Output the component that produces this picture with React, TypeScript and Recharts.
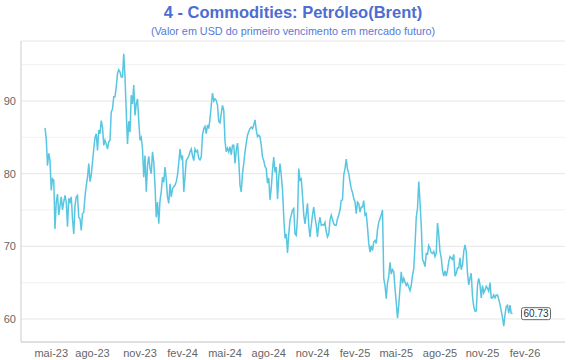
import { LineChart, Line, XAxis, YAxis, CartesianGrid, LabelList } from 'recharts';

// Brent, primeiro vencimento (USD)
const precos = [
  86.3, 84.8, 81.1, 82.8, 81.8, 77.7, 79.3, 79.1, 72.4, 76.1,
  77.2, 74.3, 75.6, 76.8, 75.0, 76.1, 77.0, 76.1, 72.7, 76.6,
  76.1, 76.8, 73.8, 71.7, 75.6, 76.8, 77.0, 74.0, 73.8, 72.2,
  74.5, 74.7, 76.8, 78.4, 79.5, 81.4, 78.9, 79.8, 81.6, 83.4,
  85.0, 85.5, 83.2, 86.0, 85.5, 87.3, 86.4, 83.9, 84.6, 84.1,
  83.4, 84.4, 84.6, 88.5, 88.9, 90.6, 90.6, 91.9, 93.8, 94.3,
  94.0, 93.3,
  93.3, 96.5, 93.3, 88.5, 84.1, 87.2, 85.7, 90.8, 89.6, 92.2,
  88.0, 89.6, 90.3, 87.3, 84.6, 85.0, 83.4, 79.5, 82.5, 77.5,
  81.1, 82.4, 80.7, 80.0, 83.0, 81.6, 78.4, 74.0, 76.1, 73.1,
  76.3, 77.5, 79.5, 78.8, 80.9, 79.3, 76.8, 75.9, 78.6, 76.8,
  77.9, 78.2, 78.4, 78.9, 79.8, 81.5, 83.4, 82.1, 82.5, 77.5,
  79.5, 81.8, 82.1, 82.4, 83.0, 83.4, 82.5, 81.8, 83.4, 83.0,
  83.2, 82.1, 81.9, 82.3, 85.3, 86.2, 86.5, 85.5, 86.7, 86.2,
  87.6, 89.4, 91.1, 90.0, 90.3, 90.1, 89.4, 87.2, 87.0, 88.3,
  89.4, 88.7, 84.5, 83.0, 83.5, 83.0, 83.7, 82.6, 83.9, 83.9,
  81.4, 83.2, 84.2, 81.9, 78.4, 77.5, 80.0, 81.4, 83.0, 84.2,
  85.3, 85.8, 86.2, 86.4, 86.2, 86.7, 87.4, 86.0, 85.1, 85.3,
  85.1, 83.9, 82.3, 81.8, 81.0, 80.7, 78.7, 79.4, 76.4, 78.0,
  80.5, 82.3,
  80.2, 80.9, 76.5, 79.5, 81.4, 79.8, 77.8, 74.0, 71.1, 71.7,
  69.1, 71.7, 73.6, 74.3, 75.0, 75.2, 71.7, 71.5, 74.0, 80.7,
  79.1, 79.3, 77.0, 74.3, 73.1, 74.5, 75.9, 72.9, 71.3, 72.9,
  74.3, 75.4, 74.0, 72.9, 71.3, 73.1, 74.0, 72.9, 73.0, 72.9,
  73.3, 72.0, 71.3, 71.7, 73.6, 74.3, 73.7, 73.1, 72.9, 72.9,
  73.8, 74.3, 75.0, 76.3, 76.4, 79.8, 80.7, 82.0, 80.6, 80.0,
  78.9, 77.9,
  77.4, 76.6, 76.1, 74.5, 76.1, 75.9, 74.7, 75.4, 75.4, 76.3,
  74.3, 74.5, 72.6, 70.4, 69.2, 70.1, 69.4, 70.6, 70.8, 70.4,
  72.3, 73.3, 73.8, 74.3, 75.0, 65.6, 64.6, 62.8, 65.0, 65.8,
  67.8, 66.2, 66.8, 66.5, 64.2, 62.3, 60.1, 61.9, 64.2, 66.5,
  64.9, 65.6, 65.1, 64.6, 64.9, 64.4, 63.9, 64.6, 66.0, 66.9,
  70.1, 74.0, 75.2, 78.9, 76.1, 72.9, 68.2, 67.8, 67.2, 69.0,
  68.9, 70.1, 69.7,
  69.1, 69.0, 69.3, 68.6, 69.1, 73.2, 71.6, 69.3, 68.4, 66.7,
  65.9, 66.6, 65.9, 66.7, 67.9, 68.6, 68.4, 68.2, 68.9, 65.9,
  66.3, 67.0, 67.0, 68.4, 66.8, 67.4, 69.3, 70.2, 69.3, 66.3,
  64.7, 65.6, 66.3, 63.1, 61.7, 61.1, 61.1, 64.7, 65.6, 64.7,
  62.9, 64.6, 63.6, 64.0, 64.5, 64.2, 63.8, 65.0, 62.9, 62.9,
  63.3, 62.9, 63.3, 63.3, 62.7, 62.0, 61.1, 60.2, 59.0, 60.6,
  61.7, 61.9, 60.8, 61.9, 60.8, 60.73,
];

// índice da amostra onde cai cada rótulo de mês
const tickAt = [5, 38, 76, 110, 144, 179, 214, 248, 281, 316, 350, 384];
const tickLabels = [
  'mai-23', 'ago-23', 'nov-23', 'fev-24', 'mai-24', 'ago-24',
  'nov-24', 'fev-25', 'mai-25', 'ago-25', 'nov-25', 'fev-26',
];
const yTicks = [60, 70, 80, 90];
const yMinor = [65, 75, 85, 95];

const data = precos.map((v, i) => ({ i, v }));

const FONT = '"Liberation Sans", Arial, Helvetica, sans-serif';

const UltimoValor = (props: any) => {
  const { x, y, index } = props;
  if (index !== precos.length - 1) return null;
  return (
    <g>
      <rect x={x + 9} y={y - 6} width={29} height={12} rx={2} fill="#fff" stroke="#666" strokeWidth={1} />
      <text x={x + 23.5} y={y + 3.5} textAnchor="middle" fontSize={10} fill="#333">
        {precos[index].toFixed(2)}
      </text>
    </g>
  );
};

export default function App() {
  return (
    <div style={{ position: 'absolute', left: 0, top: 0, width: 570, height: 360, fontFamily: FONT, background: '#fff' }}>
      <LineChart width={570} height={360} data={data} margin={{ top: 41, right: 5, bottom: 0, left: 0 }}>
        <CartesianGrid vertical={false} horizontalValues={yMinor} stroke="#f2f2f2" />
        <CartesianGrid vertical={false} stroke="#e6e6e6" />
        <XAxis
          type="number"
          dataKey="i"
          domain={[-19.2, 416]}
          allowDataOverflow
          ticks={tickAt}
          interval={0}
          tickFormatter={(v) => tickLabels[tickAt.indexOf(v)]}
          axisLine={{ stroke: '#ccc' }}
          tickLine={false}
          tickSize={5}
          tickMargin={2}
          height={18}
          tick={{ fontSize: 11, fill: '#666' }}
        />
        <YAxis
          domain={[56.83, 98.26]}
          allowDataOverflow
          ticks={yTicks}
          axisLine={{ stroke: '#ccc' }}
          tickLine={false}
          tickSize={3}
          tickMargin={2}
          width={21}
          tick={{ fontSize: 11, fill: '#666' }}
        />
        <Line
          type="linear"
          dataKey="v"
          stroke="#58c6e1"
          strokeWidth={1.5}
          dot={false}
          isAnimationActive={false}
        >
          <LabelList dataKey="v" content={UltimoValor} />
        </Line>
      </LineChart>
      <svg width={570} height={45} style={{ position: 'absolute', left: 0, top: 0, pointerEvents: 'none' }}>
        <text x={293} y={17.5} textAnchor="middle" fontSize={16.5} fontWeight="bold" fill="#4d6dd2">
          4 - Commodities: Petróleo(Brent)
        </text>
        <text x={293} y={35} textAnchor="middle" fontSize={10.8} fill="#5878d6">
          (Valor em USD do primeiro vencimento em mercado futuro)
        </text>
      </svg>
    </div>
  );
}
